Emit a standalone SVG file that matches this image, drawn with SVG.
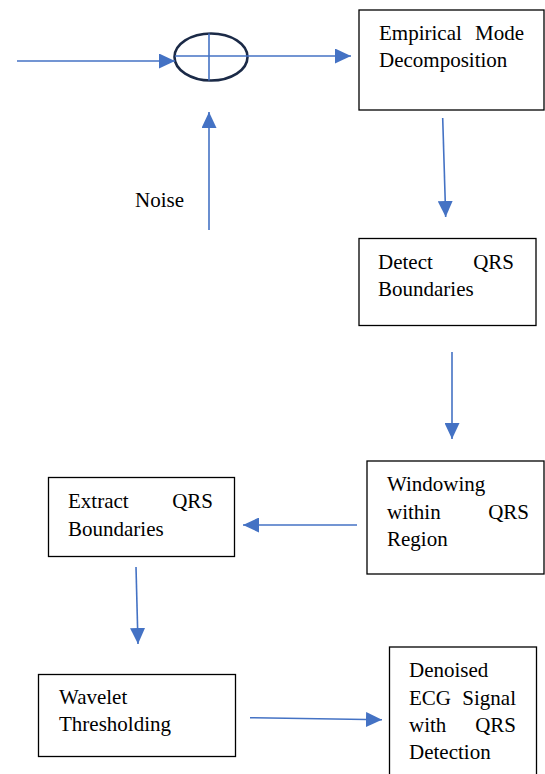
<svg xmlns="http://www.w3.org/2000/svg" width="545" height="774" viewBox="0 0 545 774">
  <style>
    .box { fill: #ffffff; stroke: #000000; stroke-width: 1.3; }
    .lbl { font-family: 'Liberation Serif', 'Times New Roman', Tinos, 'DejaVu Serif', serif; font-size: 21px; fill: #000000; }
    .end { text-anchor: end; }
    .wire { fill: none; stroke: #4472C4; stroke-width: 1.6; }
    .arrow { marker-end: url(#head); }
  </style>
  <defs>
    <marker id="head" markerUnits="userSpaceOnUse" markerWidth="16" markerHeight="15" refX="16" refY="7.5" orient="auto" viewBox="0 0 16 15">
      <path d="M0,0 L16,7.5 L0,15 Z" fill="#4472C4"/>
    </marker>
  </defs>
  <rect width="545" height="774" fill="#ffffff"/>

  <!-- summing junction -->
  <g id="sum">
    <ellipse cx="211" cy="57" rx="36.5" ry="23.5" fill="none" stroke="#1b2a47" stroke-width="2.6"/>
    <line x1="209" y1="33.5" x2="209" y2="80.5" stroke="#4472C4" stroke-width="1.6"/>
    <line x1="175" y1="56" x2="247" y2="56" stroke="#4472C4" stroke-width="1.6"/>
  </g>

  <g id="noise">
    <text class="lbl" x="135" y="207" font-family="Liberation Serif, serif">Noise</text>
  </g>

  <g id="emd">
    <rect class="box" x="359" y="10" width="185" height="100"/>
    <text class="lbl" x="379" y="40">Empirical</text>
    <text class="lbl end" x="524" y="40">Mode</text>
    <text class="lbl" x="379" y="67">Decomposition</text>
  </g>

  <g id="detect">
    <rect class="box" x="359" y="238.5" width="177" height="87"/>
    <text class="lbl" x="378" y="269">Detect</text>
    <text class="lbl end" x="514" y="269">QRS</text>
    <text class="lbl" x="378" y="296">Boundaries</text>
  </g>

  <g id="windowing">
    <rect class="box" x="367" y="461" width="177" height="113"/>
    <text class="lbl" x="387" y="491">Windowing</text>
    <text class="lbl" x="387" y="519">within</text>
    <text class="lbl end" x="529" y="519">QRS</text>
    <text class="lbl" x="387" y="546">Region</text>
  </g>

  <g id="extract">
    <rect class="box" x="48.5" y="477.5" width="186" height="79"/>
    <text class="lbl" x="68" y="508">Extract</text>
    <text class="lbl end" x="213" y="508">QRS</text>
    <text class="lbl" x="68" y="536">Boundaries</text>
  </g>

  <g id="wavelet">
    <rect class="box" x="38.5" y="674.5" width="197" height="82"/>
    <text class="lbl" x="59" y="704">Wavelet</text>
    <text class="lbl" x="59" y="731">Thresholding</text>
  </g>

  <g id="denoised">
    <rect class="box" x="389.5" y="647" width="147" height="140"/>
    <text class="lbl" x="409" y="677">Denoised</text>
    <text class="lbl" x="409" y="705">ECG</text>
    <text class="lbl end" x="516" y="705">Signal</text>
    <text class="lbl" x="409" y="732">with</text>
    <text class="lbl end" x="516" y="732">QRS</text>
    <text class="lbl" x="409" y="759">Detection</text>
  </g>

  <g id="connectors">
    <line class="wire arrow" x1="17" y1="61" x2="175" y2="61"/>
    <line class="wire arrow" x1="247" y1="56" x2="351" y2="56"/>
    <line class="wire arrow" x1="209" y1="230" x2="209" y2="112"/>
    <line class="wire arrow" x1="442.7" y1="118" x2="445.7" y2="217"/>
    <line class="wire arrow" x1="452" y1="352" x2="452" y2="439"/>
    <line class="wire arrow" x1="357" y1="525" x2="243" y2="525"/>
    <line class="wire arrow" x1="136" y1="567" x2="138" y2="644"/>
    <line class="wire arrow" x1="250" y1="717.7" x2="382" y2="719.7"/>
  </g>
</svg>
